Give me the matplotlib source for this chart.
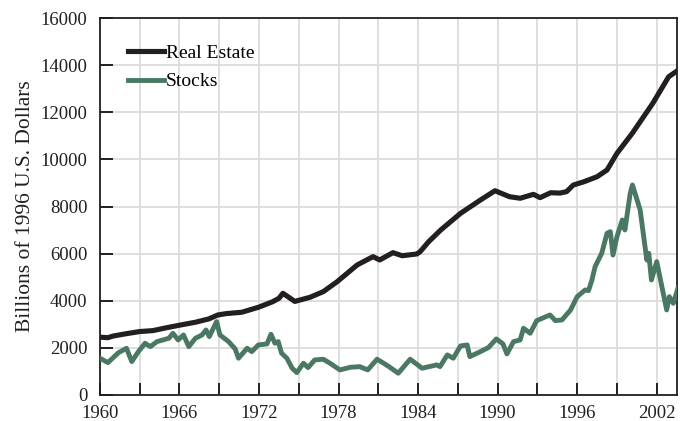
import matplotlib
matplotlib.use("Agg")
import matplotlib.pyplot as plt

# Real estate (billions of 1996 US$)
re_years = [1960, 1960.6, 1961, 1962, 1963, 1964, 1965, 1966, 1967.2, 1968.2, 1968.9,
            1969.5, 1970.7, 1971.95, 1973, 1973.5, 1973.8, 1974.7, 1975.85, 1976.85,
            1977.9, 1979.4, 1980.6, 1981.1, 1982.1, 1982.8, 1983.9, 1984.15, 1984.8,
            1985.7, 1987.2, 1988.7, 1989.8, 1990.9, 1991.7, 1992.7, 1993.2, 1994,
            1994.7, 1995.2, 1995.7, 1996.5, 1997.5, 1998.25, 1999, 2000.15, 2001.7,
            2002.9, 2003.55]
re_values = [2450, 2430, 2500, 2600, 2690, 2730, 2850, 2960, 3085, 3225, 3395,
             3450, 3510, 3720, 3950, 4100, 4315, 3970, 4146, 4385,
             4810, 5517, 5870, 5730, 6040, 5910, 5984, 6080, 6507,
             7000, 7710, 8275, 8670, 8415, 8350, 8517, 8375, 8585,
             8570, 8630, 8910, 9050, 9265, 9550, 10257, 11105, 12380,
             13510, 13763]

# Stocks (billions of 1996 US$)
st_years = [1960, 1960.6, 1961.4, 1962, 1962.4, 1962.9, 1963.4, 1963.8, 1964.3, 1965.2,
            1965.5, 1965.9, 1966.3, 1966.7, 1967.2, 1967.7, 1968, 1968.25, 1968.55,
            1968.8, 1969.05, 1969.7, 1970.2, 1970.45, 1971.1, 1971.45, 1971.95,
            1972.6, 1972.9, 1973.2, 1973.45, 1973.7, 1974.1, 1974.5, 1974.85, 1975.35,
            1975.7, 1976.2, 1976.85, 1977.35, 1978.1, 1978.9, 1979.6, 1980.2, 1980.9,
            1981.4, 1981.8, 1982.5, 1983.4, 1984.3, 1985.4, 1985.65, 1986.2, 1986.65,
            1987.2, 1987.7, 1987.9, 1988.7, 1989.3, 1989.9, 1990.4, 1990.7, 1991.2,
            1991.7, 1991.95, 1992.45, 1992.95, 1993.95, 1994.35, 1994.85, 1995.5,
            1996, 1996.6, 1996.85, 1997.1, 1997.35, 1997.85, 1998.25, 1998.5, 1998.7,
            1999, 1999.4, 1999.6, 2000, 2000.17, 2000.75, 2001.25, 2001.4, 2001.6,
            2002, 2002.75, 2002.95, 2003.25, 2003.6]
st_values = [1557, 1371, 1795, 1980, 1415, 1838, 2193, 2050, 2263, 2405,
             2617, 2334, 2546, 2050, 2405, 2546, 2758, 2475, 2830,
             3112, 2546, 2263, 1950, 1557, 1980, 1838, 2122,
             2165, 2576, 2193, 2263, 1770, 1557, 1133, 948, 1345,
             1160, 1485, 1515, 1345, 1061, 1174, 1200, 1061, 1515,
             1345, 1200, 920, 1515, 1132, 1273, 1200, 1698, 1557,
             2080, 2122, 1626, 1838, 2008, 2377, 2165, 1740, 2263,
             2334, 2830, 2617, 3155, 3395, 3155, 3183, 3607,
             4172, 4456, 4427, 4851, 5445, 6013, 6862, 6932, 5940,
             6720, 7427, 7003, 8560, 8913, 7852, 5730, 6013, 4880,
             5658, 3607, 4172, 3890, 4527]

plt.rcParams['font.family'] = ['Liberation Serif', 'DejaVu Serif']

fig = plt.figure(figsize=(6.8, 4.21), dpi=100)
ax = fig.add_axes([0.147, 0.062, 0.849, 0.895])

ax.plot(re_years, re_values, color='#231f20', lw=3.7, label='Real Estate',
        solid_joinstyle='round', zorder=3)
ax.plot(st_years, st_values, color='#4a7862', lw=3.5, label='Stocks',
        solid_joinstyle='round', zorder=3)

ax.set_xlim(1960, 2003.55)
ax.set_ylim(0, 16000)
ax.set_xticks(range(1960, 2004, 3))
ax.set_xticklabels([str(y) if (y - 1960) % 6 == 0 else '' for y in range(1960, 2004, 3)])
ax.set_yticks(range(0, 16001, 2000))
ax.tick_params(direction='in', length=9, width=1.4, colors='#231f20',
               labelsize=13.5, labelcolor='#231f20')
ax.tick_params(axis='x', pad=7)
ax.tick_params(axis='y', pad=9)
ax.grid(True, color='#dcdcdc', lw=1.3)
ax.set_axisbelow(True)
for s in ax.spines.values():
    s.set_color('#231f20')
    s.set_linewidth(1.3)

ax.set_ylabel('Billions of 1996 U.S. Dollars', fontsize=15.5, color='#231f20', labelpad=4)

leg = ax.legend(loc='upper left', bbox_to_anchor=(0.0485, 0.93), frameon=False,
                fontsize=14, handlelength=1.85, handletextpad=0.1, labelspacing=0.55,
                borderpad=0, borderaxespad=0)

fig.savefig('out.png', dpi=100)
